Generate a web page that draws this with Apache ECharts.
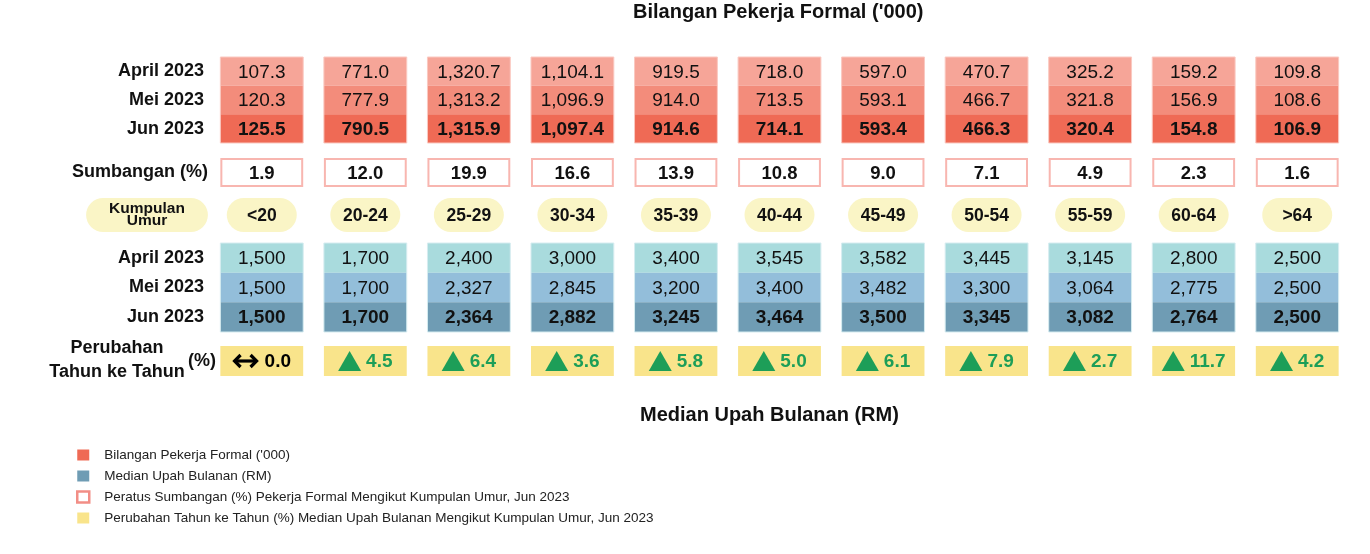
<!DOCTYPE html>
<html>
<head>
    <meta charset="utf-8">
    <title>Pekerja Formal</title>
    <style>
        html,body{width:100%;height:100%;margin:0;padding:0;overflow:hidden;background:#fff;}
        #main{width:1370px;height:554px;}
    </style>
    <script src="https://cdn.jsdelivr.net/npm/echarts@6/dist/echarts.min.js"></script>
</head>
<body>
<div id="main"></div>
<script type="text/javascript">

    // data
    var ages = ['<20', '20-24', '25-29', '30-34', '35-39', '40-44', '45-49', '50-54', '55-59', '60-64', '>64'];
    var months = ['April 2023', 'Mei 2023', 'Jun 2023'];
    var workApr = [107.3, 771.0, 1320.7, 1104.1, 919.5, 718.0, 597.0, 470.7, 325.2, 159.2, 109.8];
    var workMei = [120.3, 777.9, 1313.2, 1096.9, 914.0, 713.5, 593.1, 466.7, 321.8, 156.9, 108.6];
    var workJun = [125.5, 790.5, 1315.9, 1097.4, 914.6, 714.1, 593.4, 466.3, 320.4, 154.8, 106.9];
    var share = [1.9, 12.0, 19.9, 16.6, 13.9, 10.8, 9.0, 7.1, 4.9, 2.3, 1.6];
    var wageApr = [1500, 1700, 2400, 3000, 3400, 3545, 3582, 3445, 3145, 2800, 2500];
    var wageMei = [1500, 1700, 2327, 2845, 3200, 3400, 3482, 3300, 3064, 2775, 2500];
    var wageJun = [1500, 1700, 2364, 2882, 3245, 3464, 3500, 3345, 3082, 2764, 2500];
    var yoy = [0.0, 4.5, 6.4, 3.6, 5.8, 5.0, 6.1, 7.9, 2.7, 11.7, 4.2];

    var FONT = '"Liberation Sans", Arial, Helvetica, sans-serif';
    var redColors = ['#F6A598', '#F38C7B', '#EF6A55'];
    var blueColors = ['#A9DBDD', '#93BEDA', '#6F9CB4'];
    var yellow = '#F9E48B';
    var cream = '#FAF5C6';
    var green = '#1D9E58';

    var nameWork = "Bilangan Pekerja Formal ('000)";
    var nameWage = 'Median Upah Bulanan (RM)';
    var nameShare = 'Peratus Sumbangan (%) Pekerja Formal Mengikut Kumpulan Umur, Jun 2023';
    var nameYoy = 'Perubahan Tahun ke Tahun (%) Median Upah Bulanan Mengikut Kumpulan Umur, Jun 2023';

    var measureCtx = document.createElement('canvas').getContext('2d');
    function textWidth(str, font) {
        measureCtx.font = font;
        return measureCtx.measureText(str).width;
    }

    function fmt1(v) {
        return v.toLocaleString('en-US', {minimumFractionDigits: 1, maximumFractionDigits: 1});
    }
    function fmt0(v) {
        return v.toLocaleString('en-US', {maximumFractionDigits: 0});
    }

    function toCells(rows) {
        var out = [];
        rows.forEach(function (row, r) {
            row.forEach(function (v, c) { out.push([c, r, v]); });
        });
        return out;
    }

    // block of 3 monthly rows, Jun in bold
    function blockRenderer(colors, frame, fmt) {
        return function (params, api) {
            var c = api.value(0), r = api.value(1), v = api.value(2);
            var p = api.coord([c, r]);
            var s = api.size([1, 1]);
            var w = s[0] * 0.8, h = s[1];
            var kids = [{
                type: 'rect',
                shape: {x: p[0] - w / 2, y: p[1] - h / 2, width: w, height: h},
                style: {fill: colors[r]}
            }, {
                type: 'text',
                z2: 20,
                style: {
                    text: fmt(v), x: p[0], y: p[1] + 1, align: 'center', verticalAlign: 'middle',
                    fontSize: 19, fontWeight: r === 2 ? 'bold' : 'normal', fontFamily: FONT, fill: '#111'
                }
            }];
            if (r === 0) {
                kids.push({
                    type: 'rect', z2: 10,
                    shape: {x: p[0] - w / 2, y: p[1] - h / 2, width: w, height: h * 3},
                    style: {fill: 'none', stroke: frame, lineWidth: 1}
                });
            }
            return {type: 'group', children: kids};
        };
    }

    function shareRenderer(params, api) {
        var c = api.value(0), v = api.value(1);
        var p = api.coord([c, 0]);
        var s = api.size([1, 1]);
        var w = s[0] * 0.8 - 2, h = s[1] - 2;
        return {
            type: 'group', children: [{
                type: 'rect',
                shape: {x: p[0] - w / 2, y: p[1] - h / 2, width: w, height: h},
                style: {fill: '#fff', stroke: '#F8B6B0', lineWidth: 2}
            }, {
                type: 'text',
                style: {
                    text: v.toFixed(1), x: p[0], y: p[1] + 1, align: 'center', verticalAlign: 'middle',
                    fontSize: 18.5, fontWeight: 'bold', fontFamily: FONT, fill: '#111'
                }
            }]
        };
    }

    function ageRenderer(params, api) {
        var c = api.value(0);
        var p = api.coord([c, 0]);
        var s = api.size([1, 1]);
        var w = 70, h = s[1];
        return {
            type: 'group', children: [{
                type: 'rect',
                shape: {x: p[0] - w / 2, y: p[1] - h / 2, width: w, height: h, r: h / 2},
                style: {fill: cream}
            }, {
                type: 'text',
                style: {
                    text: ages[c], x: p[0], y: p[1] + 1, align: 'center', verticalAlign: 'middle',
                    fontSize: 17.5, fontWeight: 'bold', fontFamily: FONT, fill: '#111'
                }
            }]
        };
    }

    function yoyRenderer(params, api) {
        var c = api.value(0), v = api.value(1);
        var p = api.coord([c, 0]);
        var s = api.size([1, 1]);
        var w = s[0] * 0.8, h = s[1];
        var label = v.toFixed(1);
        var font = 'bold 19px ' + FONT;
        var tw = textWidth(label, font);
        var kids = [{
            type: 'rect',
            shape: {x: p[0] - w / 2, y: p[1] - h / 2, width: w, height: h},
            style: {fill: yellow}
        }];
        var x0, y = p[1];
        if (v === 0) {
            x0 = p[0] - (26 + 6 + tw) / 2;
            kids.push({
                type: 'line', shape: {x1: x0 + 2, y1: y, x2: x0 + 24, y2: y},
                style: {stroke: '#000', lineWidth: 3.2}
            }, {
                type: 'polyline', shape: {points: [[x0 + 8, y - 6], [x0 + 2, y], [x0 + 8, y + 6]]},
                style: {stroke: '#000', lineWidth: 3.2, fill: 'none'}
            }, {
                type: 'polyline', shape: {points: [[x0 + 18, y - 6], [x0 + 24, y], [x0 + 18, y + 6]]},
                style: {stroke: '#000', lineWidth: 3.2, fill: 'none'}
            }, {
                type: 'text',
                style: {
                    text: label, x: x0 + 32, y: y + 1, align: 'left', verticalAlign: 'middle',
                    fontSize: 19, fontWeight: 'bold', fontFamily: FONT, fill: '#000'
                }
            });
        } else {
            x0 = p[0] - (23 + 5 + tw) / 2;
            kids.push({
                type: 'polygon', shape: {points: [[x0, y + 10], [x0 + 11.5, y - 10], [x0 + 23, y + 10]]},
                style: {fill: green}
            }, {
                type: 'text',
                style: {
                    text: label, x: x0 + 28, y: y + 1, align: 'left', verticalAlign: 'middle',
                    fontSize: 19, fontWeight: 'bold', fontFamily: FONT, fill: green
                }
            });
        }
        return {type: 'group', children: kids};
    }

    var labelStyle = {fontSize: 18, fontWeight: 'bold', fontFamily: FONT, color: '#111'};

    function yCat(data, extra) {
        var ax = {
            type: 'category', data: data, inverse: true,
            axisLine: {show: false}, axisTick: {show: false}, splitLine: {show: false},
            axisLabel: Object.assign({margin: 6}, labelStyle)
        };
        return Object.assign(ax, extra || {});
    }

    var grids = [
        {top: 57, height: 86},
        {top: 158, height: 29},
        {top: 198, height: 34},
        {top: 243, height: 89},
        {top: 346, height: 30}
    ].map(function (g) { return Object.assign({left: 210, right: 21, containLabel: false}, g); });

    var myChart = echarts.init(document.getElementById('main'));

    var option = {
        backgroundColor: '#fff',
        animation: false,
        title: [{
            text: nameWork, left: 633, top: 2, padding: 0,
            textStyle: {fontSize: 20, fontWeight: 'bold', fontFamily: FONT, color: '#111'}
        }, {
            text: nameWage, left: 640, top: 405, padding: 0,
            textStyle: {fontSize: 20, fontWeight: 'bold', fontFamily: FONT, color: '#111'}
        }],
        legend: {
            orient: 'vertical', left: 76, top: 448, padding: 0,
            itemWidth: 12, itemHeight: 11, itemGap: 7, icon: 'rect',
            selectedMode: false,
            textStyle: {fontSize: 13.5, fontFamily: FONT, color: '#222', padding: [0, 0, 0, 10]},
            data: [
                {name: nameWork, itemStyle: {color: '#EF6A55'}},
                {name: nameWage, itemStyle: {color: '#6F9CB4'}},
                {name: nameShare, itemStyle: {color: '#fff', borderColor: '#F28E86', borderWidth: 2.5}},
                {name: nameYoy, itemStyle: {color: yellow}}
            ]
        },
        graphic: [
            {type: 'text', x: 117, y: 348, style: {text: 'Perubahan', align: 'center', verticalAlign: 'middle', fontSize: 18, fontWeight: 'bold', fontFamily: FONT, fill: '#111'}},
            {type: 'text', x: 117, y: 372, style: {text: 'Tahun ke Tahun', align: 'center', verticalAlign: 'middle', fontSize: 18, fontWeight: 'bold', fontFamily: FONT, fill: '#111'}},
            {type: 'text', x: 202, y: 361, style: {text: '(%)', align: 'center', verticalAlign: 'middle', fontSize: 18, fontWeight: 'bold', fontFamily: FONT, fill: '#111'}}
        ],
        grid: grids,
        xAxis: grids.map(function (g, i) {
            return {type: 'category', data: ages, gridIndex: i, show: false};
        }),
        yAxis: [
            yCat(months, {gridIndex: 0}),
            yCat(['Sumbangan (%)'], {gridIndex: 1, axisLabel: Object.assign({margin: 2}, labelStyle)}),
            yCat(['Kumpulan Umur'], {
                gridIndex: 2,
                axisLabel: {
                    margin: 63, align: 'center', formatter: 'Kumpulan\nUmur',
                    fontSize: 15.5, fontWeight: 'bold', fontFamily: FONT, color: '#111', lineHeight: 12,
                    backgroundColor: cream, borderRadius: 17, padding: [5, 23, 5, 23]
                }
            }),
            yCat(months, {gridIndex: 3}),
            yCat(['Perubahan'], {gridIndex: 4, axisLabel: {show: false}})
        ],
        series: [{
            name: nameWork, type: 'custom', xAxisIndex: 0, yAxisIndex: 0,
            itemStyle: {color: '#EF6A55'},
            renderItem: blockRenderer(redColors, '#FAC9C1', fmt1),
            encode: {x: 0, y: 1},
            data: toCells([workApr, workMei, workJun])
        }, {
            name: nameShare, type: 'custom', xAxisIndex: 1, yAxisIndex: 1,
            itemStyle: {color: '#fff'},
            renderItem: shareRenderer,
            encode: {x: 0},
            data: share.map(function (v, c) { return [c, v]; })
        }, {
            name: 'Kumpulan Umur', type: 'custom', xAxisIndex: 2, yAxisIndex: 2,
            renderItem: ageRenderer,
            encode: {x: 0},
            data: ages.map(function (a, c) { return [c, 0]; })
        }, {
            name: nameWage, type: 'custom', xAxisIndex: 3, yAxisIndex: 3,
            itemStyle: {color: '#6F9CB4'},
            renderItem: blockRenderer(blueColors, '#D6ECF0', fmt0),
            encode: {x: 0, y: 1},
            data: toCells([wageApr, wageMei, wageJun])
        }, {
            name: nameYoy, type: 'custom', xAxisIndex: 4, yAxisIndex: 4,
            itemStyle: {color: yellow},
            renderItem: yoyRenderer,
            encode: {x: 0},
            data: yoy.map(function (v, c) { return [c, v]; })
        }]
    };

    myChart.setOption(option);

</script>
</body>
</html>
